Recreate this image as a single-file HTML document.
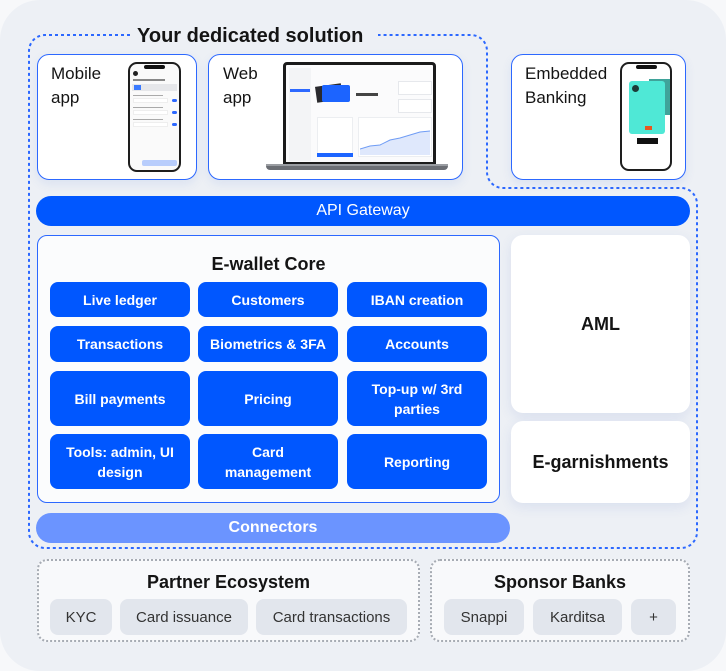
<!DOCTYPE html>
<html><head><meta charset="utf-8">
<style>
*{margin:0;padding:0;box-sizing:border-box}
html,body{width:726px;height:671px;overflow:hidden;background:#f7f8fa;font-family:"Liberation Sans",sans-serif;color:#141414}
.abs{position:absolute}
#bg{left:0;top:0;width:726px;height:671px;border-radius:40px;background:#edf0f5}
.card{position:absolute;background:#fff;border:1.5px solid #2c68ff;border-radius:12px;box-shadow:0 4px 10px rgba(60,110,220,0.10)}
.lbl{position:absolute;font-size:17px;line-height:24px;color:#141414}
.btn{position:absolute;width:140px;background:#0057ff;border-radius:8px;color:#fff;font-weight:bold;font-size:14px;line-height:20px;display:flex;align-items:center;justify-content:center;text-align:center}
.wbox{position:absolute;background:#fff;border-radius:12px;box-shadow:0 4px 12px rgba(70,110,200,0.12);display:flex;align-items:center;justify-content:center;font-weight:bold;font-size:18px}
.bot{position:absolute;top:559px;height:83px;border:2px dotted #a7acb4;border-radius:10px;background:#f8f9fb}
.bt{position:absolute;left:0;right:0;top:9px;text-align:center;font-weight:bold;font-size:18px;line-height:24px}
.chip{position:absolute;top:599px;height:36px;background:#e2e6ed;border-radius:8px;font-size:15px;color:#333;display:flex;align-items:center;justify-content:center}
</style></head><body>
<div id="bg" class="abs"></div>

<svg class="abs" style="left:0;top:0" width="726" height="671">
<path d="M130,35 H45 A16,16 0 0 0 29,51 V532 A16,16 0 0 0 45,548 H681 A16,16 0 0 0 697,532 V204 A16,16 0 0 0 681,188 H503 A16,16 0 0 1 487,172 V51 A16,16 0 0 0 471,35 H378" fill="none" stroke="#2c68ff" stroke-width="2" stroke-dasharray="3 3"/>
</svg>
<div class="abs" style="left:137px;top:23px;font-size:20px;font-weight:bold;line-height:26px;color:#141414">Your dedicated solution</div>

<!-- Mobile app -->
<div class="card" style="left:37px;top:54px;width:160px;height:126px"></div>
<div class="lbl" style="left:51px;top:62px">Mobile<br>app</div>
<div class="abs" style="left:128px;top:62px;width:53px;height:110px;border:2px solid #1e1e1e;border-radius:9px;background:#fafafa;overflow:hidden">
  <div class="abs" style="left:14px;top:1px;width:21px;height:4px;background:#111;border-radius:3px"></div>
  <div class="abs" style="left:3px;top:7px;width:5px;height:5px;background:#222;border-radius:50%"></div>
  <div class="abs" style="left:3px;top:15px;width:32px;height:2px;background:#888"></div>
  <div class="abs" style="left:2px;top:20px;width:45px;height:7px;background:#e6e7ea"></div>
  <div class="abs" style="left:4px;top:21px;width:7px;height:5px;background:#3b7bff"></div>
  <div class="abs" style="left:3px;top:31px;width:30px;height:1px;background:#aaa"></div>
  <div class="abs" style="left:3px;top:34px;width:35px;height:5px;background:#fff;border:1px solid #eee"></div>
  <div class="abs" style="left:42px;top:35px;width:5px;height:3px;background:#2c68ff;border-radius:2px"></div>
  <div class="abs" style="left:3px;top:43px;width:30px;height:1px;background:#aaa"></div>
  <div class="abs" style="left:3px;top:46px;width:35px;height:5px;background:#fff;border:1px solid #eee"></div>
  <div class="abs" style="left:42px;top:47px;width:5px;height:3px;background:#2c68ff;border-radius:2px"></div>
  <div class="abs" style="left:3px;top:55px;width:30px;height:1px;background:#aaa"></div>
  <div class="abs" style="left:3px;top:58px;width:35px;height:5px;background:#fff;border:1px solid #eee"></div>
  <div class="abs" style="left:42px;top:59px;width:5px;height:3px;background:#2c68ff;border-radius:2px"></div>
  <div class="abs" style="left:12px;top:96px;width:35px;height:6px;background:#b8cdfc;border-radius:2px"></div>
</div>

<!-- Web app -->
<div class="card" style="left:208px;top:54px;width:255px;height:126px"></div>
<div class="lbl" style="left:223px;top:62px">Web<br>app</div>
<div class="abs" style="left:283px;top:62px;width:153px;height:103px;border:3px solid #1b1b1b;border-radius:4px 4px 0 0;background:#fbfbfc;overflow:hidden">
  <div class="abs" style="left:3px;top:3px;width:22px;height:93px;background:#f3f4f6"></div>
  <div class="abs" style="left:4px;top:24px;width:20px;height:3px;background:#2c68ff"></div>
  <div class="abs" style="left:30px;top:20px;width:26px;height:16px;background:#2a2a2e;transform:rotate(-8deg)"></div>
  <div class="abs" style="left:36px;top:20px;width:28px;height:17px;background:#1c64ff;border-radius:2px"></div>
  <div class="abs" style="left:70px;top:28px;width:22px;height:3px;background:#444"></div>
  <div class="abs" style="left:112px;top:16px;width:34px;height:14px;border:1px solid #e6e8ec;background:#fff"></div>
  <div class="abs" style="left:112px;top:34px;width:34px;height:14px;border:1px solid #e6e8ec;background:#fff"></div>
  <div class="abs" style="left:31px;top:52px;width:36px;height:40px;border:1px solid #eceef1;background:#fff"></div>
  <div class="abs" style="left:31px;top:88px;width:36px;height:4px;background:#1c64ff"></div>
  <div class="abs" style="left:72px;top:52px;width:74px;height:40px;border:1px solid #eceef1;background:#fff"></div>
  <svg class="abs" style="left:74px;top:62px" width="70" height="28"><polygon points="0,22 10,19 20,18 30,13 40,11 50,8 60,5 70,4 70,28 0,28" fill="#dfe8fc"/><polyline points="0,22 10,19 20,18 30,13 40,11 50,8 60,5 70,4" fill="none" stroke="#6f9cf5" stroke-width="1"/></svg>
</div>
<div class="abs" style="left:266px;top:164px;width:182px;height:6px;background:#6b6e74;border-radius:0 0 4px 4px"></div>
<div class="abs" style="left:266px;top:164px;width:182px;height:2px;background:#9a9da2"></div>

<!-- Embedded Banking -->
<div class="card" style="left:511px;top:54px;width:175px;height:126px"></div>
<div class="lbl" style="left:525px;top:62px">Embedded<br>Banking</div>
<div class="abs" style="left:620px;top:62px;width:52px;height:109px;border:2px solid #1e1e1e;border-radius:9px;background:#fff;overflow:hidden">
  <div class="abs" style="left:14px;top:1px;width:21px;height:4px;background:#111;border-radius:3px"></div>
  <div class="abs" style="left:27px;top:15px;width:25px;height:36px;background:#3fa39a"></div>
  <div class="abs" style="left:7px;top:17px;width:36px;height:53px;background:#4fe8d6;border-radius:3px"></div>
  <div class="abs" style="left:10px;top:21px;width:7px;height:7px;background:#1d3b38;border-radius:50%"></div>
  <div class="abs" style="left:23px;top:62px;width:7px;height:4px;background:#e8551f"></div>
  <div class="abs" style="left:15px;top:74px;width:21px;height:6px;background:#111"></div>
</div>

<!-- API Gateway -->
<div class="abs" style="left:36px;top:196px;width:654px;height:30px;border-radius:15px;background:#0057ff;color:#fff;font-size:16px;display:flex;align-items:center;justify-content:center">API Gateway</div>

<!-- Core -->
<div class="abs" style="left:37px;top:235px;width:463px;height:268px;border:1.5px solid #2c68ff;border-radius:10px;background:#fbfcfd"></div>
<div class="abs" style="left:37px;top:252px;width:463px;text-align:center;font-size:18px;font-weight:bold;line-height:24px">E-wallet Core</div>

<div class="btn" style="left:50px;top:282px;height:35px">Live ledger</div>
<div class="btn" style="left:198px;top:282px;height:35px">Customers</div>
<div class="btn" style="left:347px;top:282px;height:35px">IBAN creation</div>
<div class="btn" style="left:50px;top:326px;height:36px">Transactions</div>
<div class="btn" style="left:198px;top:326px;height:36px">Biometrics &amp; 3FA</div>
<div class="btn" style="left:347px;top:326px;height:36px">Accounts</div>
<div class="btn" style="left:50px;top:371px;height:55px">Bill payments</div>
<div class="btn" style="left:198px;top:371px;height:55px">Pricing</div>
<div class="btn" style="left:347px;top:371px;height:55px">Top-up w/ 3rd<br>parties</div>
<div class="btn" style="left:50px;top:434px;height:55px">Tools: admin, UI<br>design</div>
<div class="btn" style="left:198px;top:434px;height:55px">Card<br>management</div>
<div class="btn" style="left:347px;top:434px;height:55px">Reporting</div>

<div class="wbox" style="left:511px;top:235px;width:179px;height:178px">AML</div>
<div class="wbox" style="left:511px;top:421px;width:179px;height:82px">E-garnishments</div>

<div class="abs" style="left:36px;top:513px;width:474px;height:30px;border-radius:15px;background:#6b94ff;color:#fff;font-size:16px;font-weight:bold;display:flex;align-items:center;justify-content:center">Connectors</div>

<!-- Bottom -->
<div class="bot" style="left:37px;width:383px"><div class="bt">Partner Ecosystem</div></div>
<div class="bot" style="left:430px;width:260px"><div class="bt">Sponsor Banks</div></div>
<div class="chip" style="left:50px;width:62px">KYC</div>
<div class="chip" style="left:120px;width:128px">Card issuance</div>
<div class="chip" style="left:256px;width:151px">Card transactions</div>
<div class="chip" style="left:444px;width:80px">Snappi</div>
<div class="chip" style="left:533px;width:89px">Karditsa</div>
<div class="chip" style="left:631px;width:45px">+</div>
</body></html>
